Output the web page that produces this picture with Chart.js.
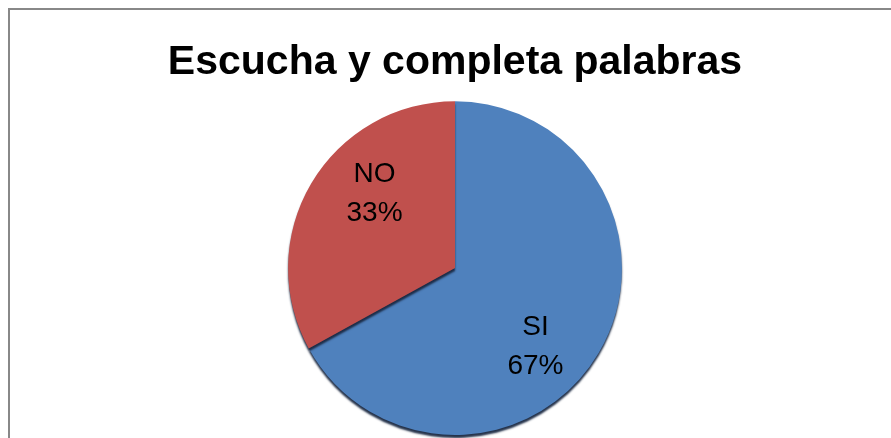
<!DOCTYPE html>
<html>
<head>
<meta charset="utf-8">
<script src="https://cdn.jsdelivr.net/npm/chart.js@4/dist/chart.umd.min.js"></script>
<style>
html, body { margin: 0; padding: 0; background: #fff; overflow: hidden; }
#wrap { position: relative; width: 891px; height: 438px; }
#frame { position: absolute; left: 8px; top: 8px; width: 1000px; height: 1000px;
  border-left: 2px solid #888; border-top: 2px solid #888; }
#c { position: absolute; left: 0; top: 0; }
</style>
</head>
<body>
<div id="wrap">
<div id="frame"></div>
<canvas id="c" width="891" height="438"></canvas>
</div>
<script>
var categories = ['SI', 'NO'];
var percents = [67, 33];
var sliceColors = ['#4F81BD', '#C0504D'];

// draws "label \n xx%" inside each slice
var sliceLabels = {
	id: 'sliceLabels',
	afterDatasetsDraw: function(chart) {
		var ctx = chart.ctx;
		var meta = chart.getDatasetMeta(0);
		ctx.save();
		ctx.font = '28px "Liberation Sans", Arial, sans-serif';
		ctx.fillStyle = '#000';
		ctx.textAlign = 'center';
		ctx.textBaseline = 'middle';
		meta.data.forEach(function(arc, i) {
			var mid = (arc.startAngle + arc.endAngle) / 2;
			var x = arc.x + Math.cos(mid) * arc.outerRadius * 0.56;
			var y = arc.y + Math.sin(mid) * arc.outerRadius * 0.9;
			ctx.fillText(categories[i], x, y - 17);
			ctx.fillText(percents[i] + '%', x, y + 22);
		});
		ctx.restore();
	}
};

// dark edge under the pie
var pieShadow = {
	id: 'pieShadow',
	beforeDatasetsDraw: function(chart) {
		var ctx = chart.ctx;
		ctx.save();
		ctx.shadowColor = 'rgba(25,40,65,0.95)';
		ctx.shadowBlur = 2;
		ctx.shadowOffsetY = 3;
	},
	afterDatasetsDraw: function(chart) {
		chart.ctx.restore();
	}
};

var el = document.getElementById('c');
var chart = new Chart(el, {
	type: 'pie',
	data: {
		labels: categories,
		datasets: [{
			data: percents,
			backgroundColor: sliceColors,
			borderWidth: 0
		}]
	},
	options: {
		responsive: false,
		animation: false,
		layout: {
			padding: { top: 0, bottom: 3, left: 19, right: 0 }
		},
		plugins: {
			legend: { display: false },
			tooltip: { enabled: false },
			title: {
				display: true,
				text: 'Escucha y completa palabras',
				color: '#000',
				font: { family: '"Liberation Sans", Arial, sans-serif', size: 41, weight: 'bold', lineHeight: 1.2 },
				padding: { top: 38, bottom: 14 }
			}
		}
	},
	plugins: [pieShadow, sliceLabels]
});
</script>
</body>
</html>
